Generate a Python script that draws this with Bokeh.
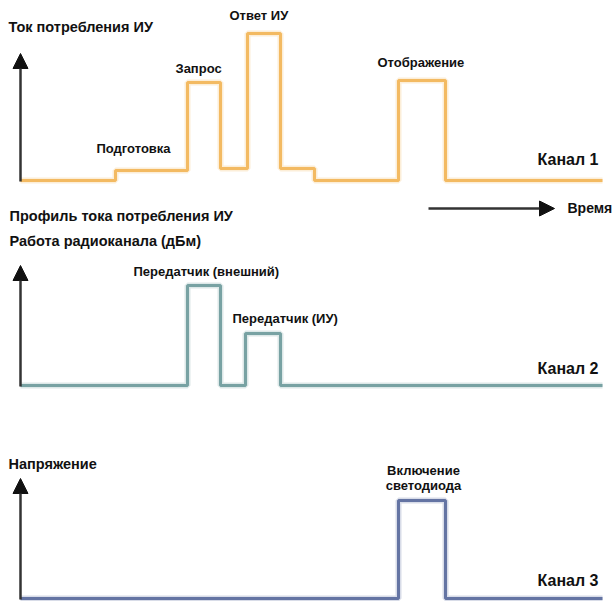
from bokeh.plotting import figure
from bokeh.models import Range1d, Arrow, NormalHead
from bokeh.core.properties import value
from bokeh.embed import file_html
from bokeh.resources import INLINE

# ---- data (time positions and levels, in picture units) ----
PIC_W = 616
PIC_H = 601  # y data = PIC_H - picture row

ch1_time = [20, 115, 187, 220, 247, 280, 314, 398, 445, 602]
ch1_level = [0, 10, 98, 12, 147, 12, 0, 100, 0, 0]
ch1_base = 180

ch2_time = [20, 187, 220, 245, 280, 602]
ch2_level = [0, 100, 0, 52, 0, 0]
ch2_base = 385

ch3_time = [20, 398, 445, 602]
ch3_level = [0, 98, 0, 0]
ch3_base = 598

channel_names = ["Канал 1", "Канал 2", "Канал 3"]
axis_titles = ["Ток потребления ИУ", "Работа радиоканала (дБм)", "Напряжение"]
ch1_labels = ["Подготовка", "Запрос", "Ответ ИУ", "Отображение"]
ch2_labels = ["Передатчик (внешний)", "Передатчик (ИУ)"]
ch3_labels = ["Включение", "светодиода"]
profile_title = "Профиль тока потребления ИУ"
time_label = "Время"

FONT = "Liberation Sans"
C1 = "#F3BA62"
C2 = "#78A2A3"
C3 = "#6474A3"


def Y(row):
    return PIC_H - row


p = figure(width=PIC_W, height=PIC_H, output_backend="svg", toolbar_location=None,
           x_range=Range1d(0, PIC_W), y_range=Range1d(0, PIC_H), min_border=0)
p.axis.visible = False
p.grid.visible = False
p.outline_line_color = None
p.background_fill_color = "white"
p.border_fill_color = "white"

for t, lv, base, col in [(ch1_time, ch1_level, ch1_base, C1),
                         (ch2_time, ch2_level, ch2_base, C2),
                         (ch3_time, ch3_level, ch3_base, C3)]:
    ys = [Y(base) + v for v in lv]
    p.step(t, ys, mode="after", line_color=col, line_width=6, line_alpha=0.25)
    p.step(t, ys, mode="after", line_color=col, line_width=3)

# vertical axis arrows
for base, tip in [(ch1_base, 53), (ch2_base, 265), (ch3_base, 478)]:
    p.add_layout(Arrow(end=NormalHead(size=15, fill_color="#111111", line_color="#111111"),
                       x_start=20, y_start=Y(base + 1), x_end=20, y_end=Y(tip),
                       line_color="#333333", line_width=2.5))

# time arrow
p.add_layout(Arrow(end=NormalHead(size=15, fill_color="#111111", line_color="#111111"),
                   x_start=428, y_start=Y(208), x_end=554, y_end=Y(208),
                   line_color="#333333", line_width=2.5))


def txt(x, row, s, size, align="left"):
    p.text(x=[x], y=[Y(row)], text=[s], text_font=value(FONT), text_font_style="bold",
           text_font_size=size, text_align=align, text_baseline="middle", text_color="#111111")


# headings
txt(8, 26, axis_titles[0], "14.5px")
txt(9, 215, profile_title, "14.5px")
txt(9, 240, axis_titles[1], "14.5px")
txt(8, 463, axis_titles[2], "14.5px")

# channel 1 labels
txt(96, 148, ch1_labels[0], "13px")
txt(175, 68, ch1_labels[1], "13px")
txt(229, 15, ch1_labels[2], "13px")
txt(377, 62, ch1_labels[3], "13px")

# channel 2 labels
txt(133, 271, ch2_labels[0], "13px")
txt(232, 318, ch2_labels[1], "13px")

# channel 3 labels
txt(423, 470, ch3_labels[0], "13px", "center")
txt(423, 485, ch3_labels[1], "13px", "center")

# channel names
txt(598, 159, channel_names[0], "16px", "right")
txt(598, 368, channel_names[1], "16px", "right")
txt(598, 580, channel_names[2], "16px", "right")

txt(567, 207, time_label, "14px")

open("out.html", "w").write(file_html(p, INLINE))
